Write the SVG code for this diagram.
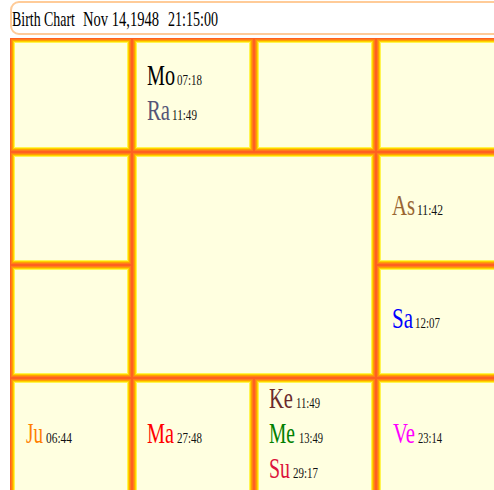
<svg xmlns="http://www.w3.org/2000/svg" xmlns:xlink="http://www.w3.org/1999/xlink" width="494" height="490" viewBox="0 0 494 490">
<style>
.r0{fill:#FFFFE0;stroke:#FF6020;stroke-width:1}
.r1{fill:none;stroke:#FF7D1A;stroke-width:1}
.r2{fill:none;stroke:#FFA000;stroke-width:1}
.r3{fill:none;stroke:#FFD200;stroke-width:1}
.r4{fill:none;stroke:#FFF550;stroke-width:1}
text{font-family:"Liberation Serif","Times New Roman",serif}
.t{font-size:20px;fill:#000}
.p{font-size:29px}
.d{font-size:15px;fill:#111}
</style>
<defs>
<g id="f1"><rect class="r0" x="0.5" y="0.5" width="121" height="113"/><rect class="r1" x="1.5" y="1.5" width="119" height="111"/><rect class="r2" x="2.5" y="2.5" width="117" height="109"/><rect class="r3" x="3.5" y="3.5" width="115" height="107"/><rect class="r4" x="4.5" y="4.5" width="113" height="105"/></g>
<g id="f2"><rect class="r0" x="0.5" y="0.5" width="133" height="113"/><rect class="r1" x="1.5" y="1.5" width="131" height="111"/><rect class="r2" x="2.5" y="2.5" width="129" height="109"/><rect class="r3" x="3.5" y="3.5" width="127" height="107"/><rect class="r4" x="4.5" y="4.5" width="125" height="105"/></g>
<g id="f3"><rect class="r0" x="0.5" y="0.5" width="121" height="112"/><rect class="r1" x="1.5" y="1.5" width="119" height="110"/><rect class="r2" x="2.5" y="2.5" width="117" height="108"/><rect class="r3" x="3.5" y="3.5" width="115" height="106"/><rect class="r4" x="4.5" y="4.5" width="113" height="104"/></g>
<g id="f4"><rect class="r0" x="0.5" y="0.5" width="133" height="112"/><rect class="r1" x="1.5" y="1.5" width="131" height="110"/><rect class="r2" x="2.5" y="2.5" width="129" height="108"/><rect class="r3" x="3.5" y="3.5" width="127" height="106"/><rect class="r4" x="4.5" y="4.5" width="125" height="104"/></g>
<g id="f5"><rect class="r0" x="0.5" y="0.5" width="243" height="225"/><rect class="r1" x="1.5" y="1.5" width="241" height="223"/><rect class="r2" x="2.5" y="2.5" width="239" height="221"/><rect class="r3" x="3.5" y="3.5" width="237" height="219"/><rect class="r4" x="4.5" y="4.5" width="235" height="217"/></g>
<g id="f6"><rect class="r0" x="0.5" y="0.5" width="121" height="121"/><rect class="r1" x="1.5" y="1.5" width="119" height="119"/><rect class="r2" x="2.5" y="2.5" width="117" height="117"/><rect class="r3" x="3.5" y="3.5" width="115" height="115"/><rect class="r4" x="4.5" y="4.5" width="113" height="113"/></g>
<g id="f7"><rect class="r0" x="0.5" y="0.5" width="133" height="121"/><rect class="r1" x="1.5" y="1.5" width="131" height="119"/><rect class="r2" x="2.5" y="2.5" width="129" height="117"/><rect class="r3" x="3.5" y="3.5" width="127" height="115"/><rect class="r4" x="4.5" y="4.5" width="125" height="113"/></g>
</defs>
<rect width="494" height="490" fill="#FFFFFF"/>
<g id="title">
<rect x="11" y="2" width="500" height="32" rx="8" fill="#FFFFFF" stroke="#FFCB98" stroke-width="2"/>
<text class="t" transform="translate(12,26) scale(0.7,1)" textLength="90" lengthAdjust="spacingAndGlyphs">Birth Chart</text>
<text class="t" transform="translate(83,26) scale(0.7,1)" textLength="108.6" lengthAdjust="spacingAndGlyphs">Nov 14,1948</text>
<text class="t" transform="translate(168,26) scale(0.7,1)" textLength="71.4" lengthAdjust="spacingAndGlyphs">21:15:00</text>
</g>
<g id="cell-1"><use xlink:href="#f1" x="10" y="38"/></g>
<g id="cell-2"><use xlink:href="#f1" x="132" y="38"/>
<text class="p" fill="#000" transform="translate(147,85) scale(0.7,1)" textLength="40" lengthAdjust="spacingAndGlyphs">Mo</text>
<text class="d" transform="translate(177,85) scale(0.7,1)" textLength="35.7" lengthAdjust="spacingAndGlyphs">07:18</text>
<text class="p" fill="#555577" transform="translate(147,120) scale(0.7,1)" textLength="32.9" lengthAdjust="spacingAndGlyphs">Ra</text>
<text class="d" transform="translate(172,120) scale(0.7,1)" textLength="35.7" lengthAdjust="spacingAndGlyphs">11:49</text>
</g>
<g id="cell-3"><use xlink:href="#f1" x="254" y="38"/></g>
<g id="cell-4"><use xlink:href="#f2" x="376" y="38"/></g>
<g id="cell-5"><use xlink:href="#f3" x="10" y="152"/></g>
<g id="center"><use xlink:href="#f5" x="132" y="152"/></g>
<g id="cell-6"><use xlink:href="#f4" x="376" y="152"/>
<text class="p" fill="#996633" transform="translate(392,215) scale(0.7,1)" textLength="32.9" lengthAdjust="spacingAndGlyphs">As</text>
<text class="d" transform="translate(417,215) scale(0.7,1)" textLength="37.1" lengthAdjust="spacingAndGlyphs">11:42</text>
</g>
<g id="cell-7"><use xlink:href="#f3" x="10" y="265"/></g>
<g id="cell-8"><use xlink:href="#f4" x="376" y="265"/>
<text class="p" fill="#0000FF" transform="translate(392,328) scale(0.7,1)" textLength="30" lengthAdjust="spacingAndGlyphs">Sa</text>
<text class="d" transform="translate(415,328) scale(0.7,1)" textLength="35.7" lengthAdjust="spacingAndGlyphs">12:07</text>
</g>
<g id="cell-9"><use xlink:href="#f6" x="10" y="378"/>
<text class="p" fill="#FF8000" transform="translate(26,443) scale(0.7,1)" textLength="24.3" lengthAdjust="spacingAndGlyphs">Ju</text>
<text class="d" transform="translate(46,443) scale(0.7,1)" textLength="37.1" lengthAdjust="spacingAndGlyphs">06:44</text>
</g>
<g id="cell-10"><use xlink:href="#f6" x="132" y="378"/>
<text class="p" fill="#FF0000" transform="translate(147,443) scale(0.7,1)" textLength="38.6" lengthAdjust="spacingAndGlyphs">Ma</text>
<text class="d" transform="translate(177,443) scale(0.7,1)" textLength="35.7" lengthAdjust="spacingAndGlyphs">27:48</text>
</g>
<g id="cell-11"><use xlink:href="#f6" x="254" y="378"/>
<text class="p" fill="#6B2B2B" transform="translate(269,408) scale(0.7,1)" textLength="34.3" lengthAdjust="spacingAndGlyphs">Ke</text>
<text class="d" transform="translate(296,408) scale(0.7,1)" textLength="34.3" lengthAdjust="spacingAndGlyphs">11:49</text>
<text class="p" fill="#008000" transform="translate(269,443) scale(0.7,1)" textLength="37.1" lengthAdjust="spacingAndGlyphs">Me</text>
<text class="d" transform="translate(299,443) scale(0.7,1)" textLength="34.3" lengthAdjust="spacingAndGlyphs">13:49</text>
<text class="p" fill="#DC143C" transform="translate(269,478) scale(0.7,1)" textLength="30" lengthAdjust="spacingAndGlyphs">Su</text>
<text class="d" transform="translate(293,478) scale(0.7,1)" textLength="35.7" lengthAdjust="spacingAndGlyphs">29:17</text>
</g>
<g id="cell-12"><use xlink:href="#f7" x="376" y="378"/>
<text class="p" fill="#FF00FF" transform="translate(393,443) scale(0.7,1)" textLength="31.4" lengthAdjust="spacingAndGlyphs">Ve</text>
<text class="d" transform="translate(418,443) scale(0.7,1)" textLength="34.3" lengthAdjust="spacingAndGlyphs">23:14</text>
</g>
<g id="connectors"/>
</svg>
